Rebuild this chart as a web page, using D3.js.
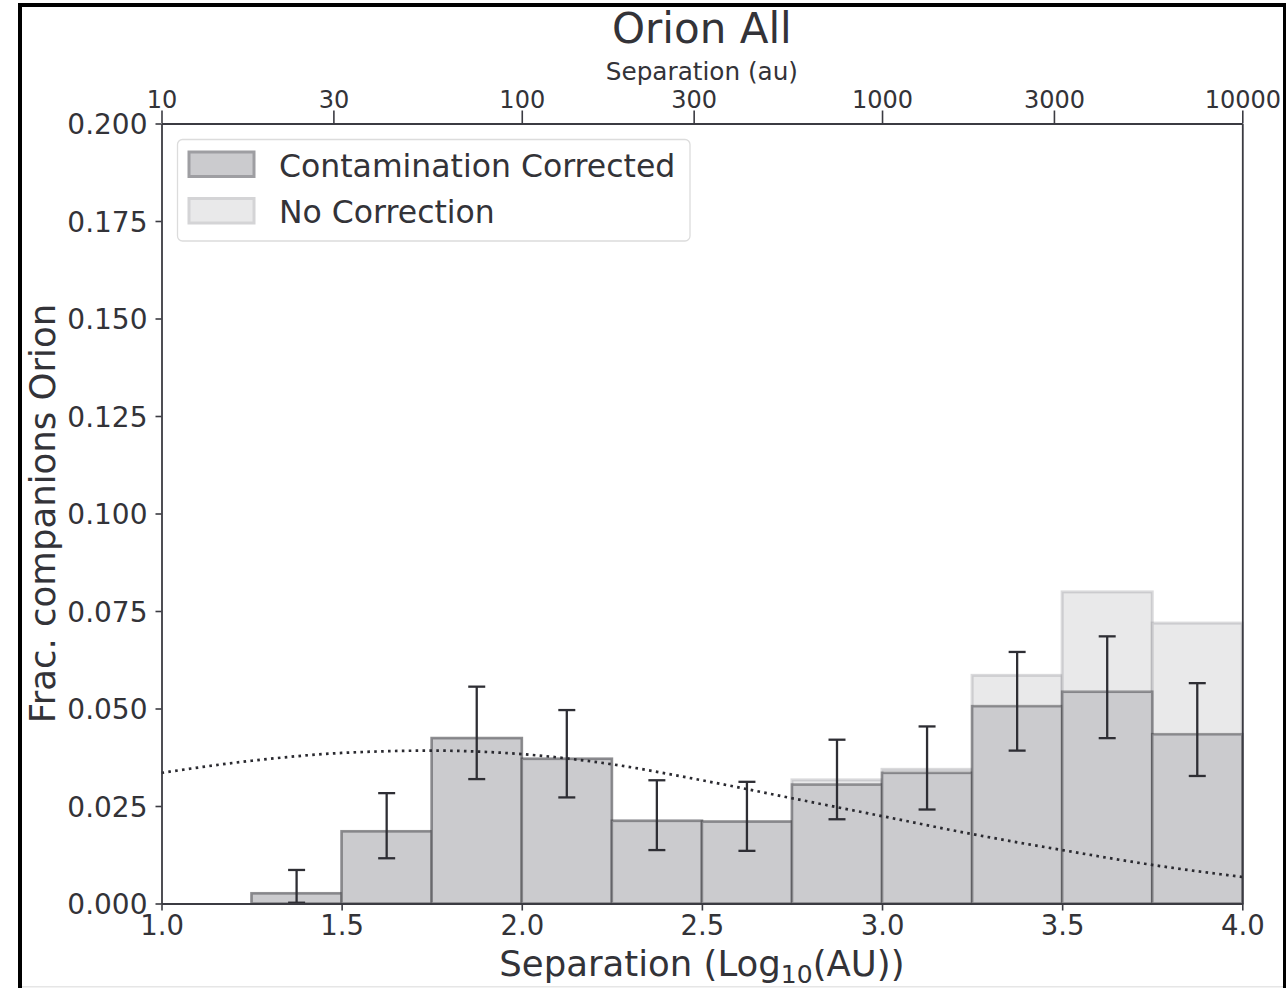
<!DOCTYPE html>
<html>
<head>
<meta charset="utf-8">
<script src="https://cdn.jsdelivr.net/npm/d3@7"></script>
<style>
  html, body { margin: 0; padding: 0; background: #ffffff; }
  svg { display: block; font-family: "DejaVu Sans", sans-serif; }
</style>
</head>
<body>
<svg id="chart" width="1286" height="988"></svg>
<script>
// Histogram bins in log10(separation / AU)
const binLeft = [1.0, 1.25, 1.5, 1.75, 2.0, 2.25, 2.5, 2.75, 3.0, 3.25, 3.5, 3.75];
const binWidth = 0.25;

// Companion fractions per bin
const corrected   = [0, 0.0026, 0.0185, 0.0424, 0.0371, 0.0212, 0.0210, 0.0305, 0.0335, 0.0506, 0.0543, 0.0434];
const uncorrected = [0, 0.0026, 0.0185, 0.0424, 0.0371, 0.0212, 0.0210, 0.0317, 0.0344, 0.0585, 0.0799, 0.0719];

// Uncertainty range on the corrected fractions
const errLow  = [null, 0.0002, 0.0116, 0.0319, 0.0272, 0.0137, 0.0135, 0.0216, 0.0241, 0.0392, 0.0424, 0.0327];
const errHigh = [null, 0.0086, 0.0283, 0.0556, 0.0496, 0.0316, 0.0312, 0.0420, 0.0454, 0.0645, 0.0685, 0.0565];

// Field reference distribution (dotted curve)
const modelX = [1.0, 1.25, 1.5, 1.75, 2.0, 2.25, 2.5, 2.75, 3.0, 3.25, 3.5, 3.75, 4.0];
const modelY = [0.0335, 0.0366, 0.0386, 0.0392, 0.0383, 0.0357, 0.0316, 0.0270, 0.0224, 0.0178, 0.0137, 0.0099, 0.0068];

// Axis ticks
const bottomTicks = [1.0, 1.5, 2.0, 2.5, 3.0, 3.5, 4.0];
const leftTicks = [0, 0.025, 0.05, 0.075, 0.1, 0.125, 0.15, 0.175, 0.2];
const topTicks = [10, 30, 100, 300, 1000, 3000, 10000];

const legendItems = ["Contamination Corrected", "No Correction"];

const svg = d3.select("#chart");
const W = 1286, H = 988;
const plot = { left: 161.5, right: 1242.3, top: 123.5, bottom: 903.5 };

const axisColor = "#3b3b42";
const textColor = "#333338";

// Outer frame
svg.append("rect").attr("x", 0).attr("y", 0).attr("width", W).attr("height", H).attr("fill", "#fff");
svg.append("line").attr("x1", 22).attr("x2", W).attr("y1", 986.8).attr("y2", 986.8)
  .attr("stroke", "#e6e6e6").attr("stroke-width", 1.5);
svg.append("rect").attr("x", 20).attr("y", 5).attr("width", 1265).attr("height", 1000)
  .attr("fill", "none").attr("stroke", "#000").attr("stroke-width", 4);

const x = d3.scaleLinear().domain([1.0, 4.0]).range([plot.left, plot.right]);
const y = d3.scaleLinear().domain([0, 0.2]).range([plot.bottom, plot.top]);
const xTop = d3.scaleLog().domain([10, 10000]).range([plot.left, plot.right]);

const g = svg.append("g");

// No-correction histogram (behind)
g.selectAll("rect.raw").data(binLeft).enter().append("rect")
  .attr("class", "raw")
  .attr("x", d => x(d))
  .attr("width", (d) => x(d + binWidth) - x(d))
  .attr("y", (d, i) => y(uncorrected[i]))
  .attr("height", (d, i) => y(0) - y(uncorrected[i]))
  .attr("fill", "#e9e9ea")
  .attr("stroke", "rgba(150,150,156,0.35)")
  .attr("stroke-width", 3);

// Contamination-corrected histogram
g.selectAll("rect.corr").data(binLeft).enter().append("rect")
  .attr("class", "corr")
  .attr("x", d => x(d))
  .attr("width", (d) => x(d + binWidth) - x(d))
  .attr("y", (d, i) => y(corrected[i]))
  .attr("height", (d, i) => y(0) - y(corrected[i]))
  .attr("fill", "#cbcbce")
  .attr("stroke", "rgba(48,48,54,0.45)")
  .attr("stroke-width", 2.6);

// Reference distribution
const line = d3.line().x(d => x(d[0])).y(d => y(d[1])).curve(d3.curveMonotoneX);
g.append("path")
  .datum(modelX.map((v, i) => [v, modelY[i]]))
  .attr("d", line)
  .attr("fill", "none")
  .attr("stroke", "#2a2a30")
  .attr("stroke-width", 2.7)
  .attr("stroke-dasharray", "2.6,4.3");

// Error bars
const errData = binLeft.map((d, i) => ({ c: d + binWidth / 2, lo: errLow[i], hi: errHigh[i] }))
  .filter(d => d.lo !== null);
const eb = g.selectAll("g.err").data(errData).enter().append("g").attr("class", "err")
  .attr("stroke", "#2e2e34").attr("stroke-width", 2.3);
eb.append("line").attr("x1", d => x(d.c)).attr("x2", d => x(d.c)).attr("y1", d => y(d.lo)).attr("y2", d => y(d.hi));
eb.append("line").attr("x1", d => x(d.c) - 8.5).attr("x2", d => x(d.c) + 8.5).attr("y1", d => y(d.lo)).attr("y2", d => y(d.lo));
eb.append("line").attr("x1", d => x(d.c) - 8.5).attr("x2", d => x(d.c) + 8.5).attr("y1", d => y(d.hi)).attr("y2", d => y(d.hi));

// Axes
function styleAxis(sel, size) {
  sel.selectAll("path.domain").attr("stroke", axisColor).attr("stroke-width", 1.8);
  sel.selectAll(".tick line").attr("stroke", axisColor).attr("stroke-width", 1.6);
  sel.selectAll(".tick text").attr("fill", textColor).style("font-size", size + "px")
    .style("font-family", "'DejaVu Sans', sans-serif");
}

const gx = svg.append("g").attr("transform", `translate(0,${plot.bottom})`)
  .call(d3.axisBottom(x).tickValues(bottomTicks).tickFormat(d3.format(".1f")).tickSize(7).tickSizeOuter(0).tickPadding(5));
styleAxis(gx, 27.5);

const gy = svg.append("g").attr("transform", `translate(${plot.left},0)`)
  .call(d3.axisLeft(y).tickValues(leftTicks).tickFormat(d3.format(".3f")).tickSize(6).tickSizeOuter(0).tickPadding(8));
styleAxis(gy, 28);
gy.selectAll(".tick text").attr("dy", "0.36em");

const gt = svg.append("g").attr("transform", `translate(0,${plot.top})`)
  .call(d3.axisTop(xTop).tickValues(topTicks).tickFormat(d3.format("d")).tickSize(13).tickSizeOuter(0).tickPadding(3));
styleAxis(gt, 24);

const gr = svg.append("g").attr("transform", `translate(${plot.right},0)`)
  .call(d3.axisRight(y).tickValues([]).tickSizeOuter(0));
styleAxis(gr, 24);

// Titles and axis labels
svg.append("text").attr("x", (plot.left + plot.right) / 2).attr("y", 43)
  .attr("text-anchor", "middle").attr("fill", textColor).style("font-size", "42px")
  .text("Orion All");

svg.append("text").attr("x", (plot.left + plot.right) / 2).attr("y", 80)
  .attr("text-anchor", "middle").attr("fill", textColor).style("font-size", "24.7px")
  .text("Separation (au)");

const xl = svg.append("text").attr("x", (plot.left + plot.right) / 2).attr("y", 976)
  .attr("text-anchor", "middle").attr("fill", textColor).style("font-size", "35.5px");
xl.append("tspan").text("Separation (Log");
xl.append("tspan").attr("dy", 7).style("font-size", "25px").text("10");
xl.append("tspan").attr("dy", -7).text("(AU))");

svg.append("text")
  .attr("transform", `translate(55,${(plot.top + plot.bottom) / 2}) rotate(-90)`)
  .attr("text-anchor", "middle").attr("fill", textColor).style("font-size", "35.5px")
  .text("Frac. companions Orion");

// Legend
const lg = svg.append("g");
lg.append("rect").attr("x", 177.5).attr("y", 139.5).attr("width", 512.5).attr("height", 101.5)
  .attr("rx", 5).attr("fill", "rgba(255,255,255,0.85)").attr("stroke", "#dcdcdc").attr("stroke-width", 1.3);
const legendFill = ["#cbcbce", "#e9e9ea"];
const legendStroke = ["#9e9ea2", "#d4d4d6"];
legendItems.forEach((t, i) => {
  const yy = 152 + i * 46.5;
  lg.append("rect").attr("x", 189).attr("y", yy).attr("width", 65).attr("height", 24.5)
    .attr("fill", legendFill[i]).attr("stroke", legendStroke[i]).attr("stroke-width", 3);
  lg.append("text").attr("x", 279).attr("y", yy + 24.5).attr("fill", textColor)
    .style("font-size", "31.5px").text(t);
});
</script>
</body>
</html>
